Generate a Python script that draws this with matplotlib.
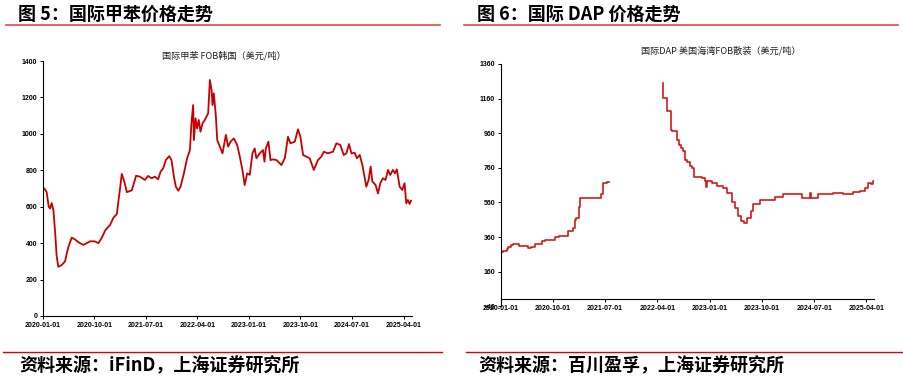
import matplotlib
matplotlib.use("Agg")
import matplotlib.pyplot as plt
import matplotlib.dates as mdates
from matplotlib.lines import Line2D
import numpy as np
import pandas as pd

plt.rcParams['font.family'] = ['Noto Sans CJK SC', 'DejaVu Sans']

# 图5 国际甲苯 FOB韩国（美元/吨）
tol_dates = ['2020-01-01', '2020-01-10', '2020-01-22', '2020-02-02', '2020-02-09', '2020-02-18',
             '2020-02-27', '2020-03-07', '2020-03-15', '2020-03-24', '2020-04-11', '2020-04-29',
             '2020-05-08', '2020-05-17', '2020-06-03', '2020-06-21', '2020-07-09', '2020-08-04',
             '2020-09-09', '2020-10-02', '2020-10-23', '2020-11-10', '2020-11-28', '2020-12-24',
             '2021-01-11', '2021-01-29', '2021-02-06', '2021-02-15', '2021-02-24', '2021-03-09',
             '2021-03-23', '2021-04-18', '2021-04-27', '2021-05-11',
             '2021-05-31', '2021-06-27', '2021-07-14', '2021-08-01', '2021-08-19', '2021-09-05',
             '2021-09-18', '2021-10-02', '2021-10-16', '2021-11-03', '2021-11-15', '2021-11-28',
             '2021-12-08', '2021-12-21', '2022-01-02', '2022-01-20', '2022-02-06', '2022-02-21',
             '2022-03-01', '2022-03-10', '2022-03-14', '2022-03-23', '2022-03-31', '2022-04-09',
             '2022-04-18', '2022-04-29', '2022-05-11', '2022-05-29', '2022-06-07', '2022-06-16',
             '2022-06-21', '2022-06-28', '2022-07-09', '2022-07-16', '2022-07-30', '2022-08-13',
             '2022-08-31', '2022-09-12', '2022-09-25', '2022-10-12', '2022-10-30', '2022-11-13',
             '2022-11-27', '2022-12-09', '2022-12-22', '2023-01-05', '2023-01-19', '2023-01-31',
             '2023-02-09', '2023-02-27', '2023-03-16', '2023-03-24', '2023-03-31', '2023-04-14',
             '2023-04-25', '2023-05-09', '2023-05-27', '2023-06-22', '2023-07-10', '2023-07-27',
             '2023-08-09', '2023-09-01', '2023-09-18', '2023-10-01', '2023-10-15', '2023-11-02',
             '2023-11-19', '2023-12-11', '2024-01-02', '2024-01-20', '2024-02-02', '2024-02-24',
             '2024-03-22', '2024-04-09', '2024-04-30', '2024-05-18', '2024-06-01', '2024-06-15',
             '2024-06-28', '2024-07-15', '2024-07-27', '2024-08-11', '2024-08-25', '2024-09-02',
             '2024-09-15', '2024-09-27', '2024-10-08', '2024-10-17', '2024-11-03', '2024-11-16',
             '2024-11-28', '2024-12-12', '2024-12-26', '2025-01-08', '2025-01-20', '2025-02-03',
             '2025-02-14', '2025-02-24', '2025-03-11', '2025-03-25', '2025-04-06', '2025-04-15',
             '2025-04-24', '2025-05-03', '2025-05-10']
tol_values = [705, 700, 680, 600, 590, 620,
              580, 460, 330, 270, 280, 300,
              345, 380, 430, 420, 405, 390,
              410, 410, 400, 430, 470, 500,
              540, 560, 630, 700, 780, 740,
              680, 690, 720, 770,
              765, 747, 769, 756, 765, 750,
              792, 811, 856, 878, 856, 765,
              710, 688, 710, 783, 866, 911,
              1058, 1158, 966, 1085, 1030, 1076,
              1012, 1058, 1076, 1113, 1296, 1241,
              1158, 1223, 1094, 966, 930, 893,
              994, 930, 957, 975, 939, 875,
              801, 719, 783, 775, 893, 920,
              866, 893, 911, 847, 920, 957,
              856, 860, 856, 829, 866, 984,
              948, 957, 1025, 984, 884, 875,
              866, 802, 856, 875, 902, 893,
              902, 948, 939, 884, 893, 944,
              893, 896, 866, 884, 829, 783,
              710, 747, 820, 738, 720, 673,
              729, 756, 747, 802, 774, 802,
              784, 805, 710, 692, 729, 619,
              637, 615, 633]

# 图6 国际DAP 美国海湾FOB散装（美元/吨），2021-08 至 2022-04 无数据
dap_dates = ['2020-01-01', '2020-01-15', '2020-02-02', '2020-02-10', '2020-02-23', '2020-03-08',
             '2020-04-08', '2020-05-22', '2020-06-07', '2020-06-30', '2020-08-04', '2020-08-21',
             '2020-10-09', '2020-10-30', '2020-12-17', '2021-01-14', '2021-01-23', '2021-01-31',
             '2021-02-16', '2021-02-21', '2021-06-10', '2021-06-19', '2021-07-12', '2021-07-23',
             '2021-07-24',
             '2022-04-29', '2022-05-03', '2022-05-19', '2022-06-11', '2022-06-15', '2022-07-14',
             '2022-07-25', '2022-08-01', '2022-08-11', '2022-08-24', '2022-09-02', '2022-09-19',
             '2022-09-27', '2022-10-11', '2022-11-19', '2022-12-06', '2022-12-14', '2022-12-18',
             '2023-01-10', '2023-02-05', '2023-03-12', '2023-03-30', '2023-04-25', '2023-05-12',
             '2023-05-30', '2023-06-11', '2023-06-28', '2023-07-13', '2023-08-03', '2023-08-13',
             '2023-09-20', '2023-12-08', '2024-01-20', '2024-04-26', '2024-06-08', '2024-06-14',
             '2024-07-22', '2024-10-08', '2024-11-30', '2025-01-21', '2025-02-25', '2025-03-23',
             '2025-04-10', '2025-04-27', '2025-05-06', '2025-05-09']
dap_values = [275, 282, 290, 302, 312, 318,
              310, 297, 302, 318, 338, 345,
              358, 364, 397, 412, 460, 470,
              533, 585, 610, 672, 676, 678,
              np.nan,
              1249, 1162, 1091, 979, 970, 922,
              893, 876, 857, 808, 792, 769,
              760, 706, 700, 683, 650, 683,
              675, 656, 643, 614, 560, 528,
              479, 455, 441, 470, 508, 553,
              576, 591, 608, 585, 614, 585,
              608, 614, 608, 618, 629, 643,
              672, 668, 685, 685]

x_ticks = ['2020-01-01', '2020-10-01', '2021-07-01', '2022-04-01',
           '2023-01-01', '2023-10-01', '2024-07-01', '2025-04-01']

fig = plt.figure(figsize=(9.04, 3.79), dpi=100)
W, H = 904.0, 379.0


def style_axes(ax, x_end):
    ax.spines['top'].set_visible(False)
    ax.spines['right'].set_visible(False)
    for s in ['left', 'bottom']:
        ax.spines[s].set_linewidth(0.8)
    ax.set_xlim(pd.Timestamp('2020-01-01'), pd.Timestamp(x_end))
    ax.set_xticks(pd.to_datetime(x_ticks))
    ax.xaxis.set_major_formatter(mdates.DateFormatter('%Y-%m-%d'))
    ax.tick_params(axis='both', length=2.5, width=0.7, pad=1.5, labelsize=5,
                   direction='out')
    for lab in ax.get_xticklabels() + ax.get_yticklabels():
        lab.set_fontfamily('Liberation Sans')
        lab.set_fontweight('bold')


# 左图
ax1 = fig.add_axes([42.7 / W, (H - 316) / H, 369 / W, 255 / H])
ax1.plot(pd.to_datetime(tol_dates), tol_values, color='#C80000', lw=1.3)
ax1.set_ylim(0, 1400)
ax1.set_yticks(range(0, 1401, 200))
style_axes(ax1, '2025-05-14')
ax1.text(0.49, 1.0, '国际甲苯 FOB韩国（美元/吨）', transform=ax1.transAxes,
         ha='center', va='bottom', fontsize=6.6, color='#222222')

# 右图
ax2 = fig.add_axes([500.7 / W, (H - 306.3) / H, 373.6 / W, 242.3 / H])
ax2.plot(pd.to_datetime(dap_dates), dap_values, color='#D41A1A', lw=1.2,
         drawstyle='steps-post')
ax2.set_ylim(-40, 1360)
ax2.set_yticks(range(-40, 1361, 200))
ax2.spines['bottom'].set_position(('data', 0))
style_axes(ax2, '2025-05-12')
ax2.text(0.59, 1.035, '国际DAP 美国海湾FOB散装（美元/吨）', transform=ax2.transAxes,
         ha='center', va='bottom', fontsize=6.6, color='#222222')

# 标题与来源
fig.text(18 / W, 1 - 14 / H, '图 5：国际甲苯价格走势', fontsize=13,
         fontweight='bold', va='center', ha='left')
fig.text(477 / W, 1 - 14 / H, '图 6：国际 DAP 价格走势', fontsize=13,
         fontweight='bold', va='center', ha='left')
fig.text(19 / W, 1 - 366 / H, '资料来源：iFinD，上海证券研究所', fontsize=13,
         fontweight='bold', va='center', ha='left')
fig.text(478 / W, 1 - 366 / H, '资料来源：百川盈孚，上海证券研究所', fontsize=13,
         fontweight='bold', va='center', ha='left')

for x0, x1 in [(6, 440), (464, 898)]:
    fig.add_artist(Line2D([x0 / W, x1 / W], [1 - 25 / H, 1 - 25 / H],
                          color='#E84848', lw=1.2, transform=fig.transFigure))
for x0, x1 in [(3, 442), (466, 902)]:
    fig.add_artist(Line2D([x0 / W, x1 / W], [1 - 352 / H, 1 - 352 / H],
                          color='#E00000', lw=1.0, transform=fig.transFigure))

fig.savefig('out.png', dpi=100)
